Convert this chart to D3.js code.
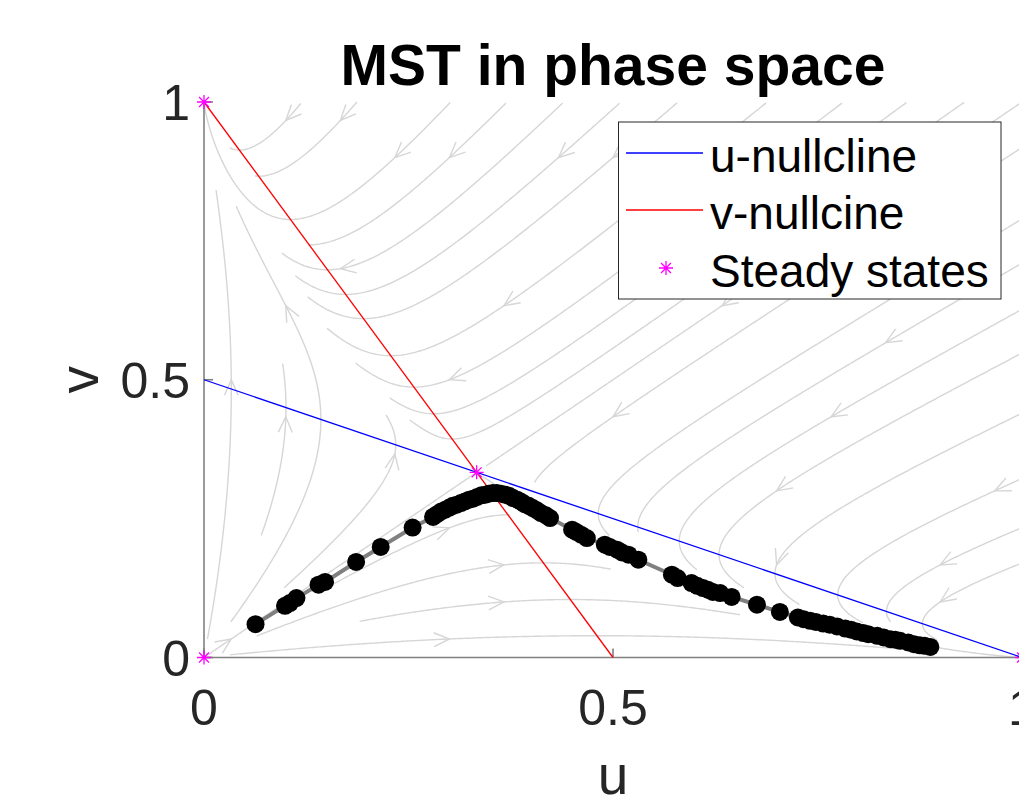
<!DOCTYPE html>
<html>
<head>
<meta charset="utf-8">
<script src="https://cdn.jsdelivr.net/npm/d3@7"></script>
<style>
  body { margin: 0; background: #fff; }
  text { font-family: "Liberation Sans", Arial, sans-serif; }
</style>
</head>
<body>
<div id="chart"></div>
<script>
// MST nodes in phase space, in path order
var mstU = [0.063, 0.099, 0.105, 0.113, 0.140, 0.148, 0.186, 0.216, 0.255, 0.280,
            0.285, 0.290, 0.295, 0.300, 0.304, 0.309, 0.314, 0.319, 0.324, 0.329,
            0.334, 0.339, 0.344, 0.348, 0.353, 0.358, 0.363, 0.368, 0.373, 0.378,
            0.383, 0.388, 0.392, 0.397, 0.402, 0.407, 0.412, 0.418, 0.423, 0.450,
            0.455, 0.461, 0.468, 0.490, 0.496, 0.505, 0.511, 0.519, 0.531, 0.572,
            0.579, 0.596, 0.603, 0.610, 0.616, 0.622, 0.631, 0.645, 0.676, 0.704,
            0.726, 0.733, 0.741, 0.748, 0.757, 0.765, 0.774, 0.784, 0.791, 0.798,
            0.806, 0.812, 0.823, 0.831, 0.839, 0.845, 0.851, 0.861, 0.868, 0.875,
            0.881, 0.888];
var mstV = [0.060, 0.093, 0.098, 0.107, 0.131, 0.136, 0.172, 0.199, 0.234, 0.253,
            0.258, 0.263, 0.266, 0.270, 0.273, 0.275, 0.278, 0.281, 0.284, 0.286,
            0.289, 0.292, 0.293, 0.295, 0.296, 0.296, 0.295, 0.293, 0.291, 0.287,
            0.284, 0.280, 0.276, 0.273, 0.269, 0.265, 0.260, 0.256, 0.251, 0.230,
            0.226, 0.221, 0.215, 0.203, 0.199, 0.194, 0.189, 0.185, 0.176, 0.149,
            0.143, 0.134, 0.129, 0.125, 0.122, 0.118, 0.116, 0.109, 0.095, 0.082,
            0.072, 0.069, 0.066, 0.064, 0.061, 0.059, 0.056, 0.052, 0.050, 0.047,
            0.044, 0.042, 0.039, 0.036, 0.033, 0.032, 0.030, 0.027, 0.024, 0.022,
            0.021, 0.019];

var steadyU = [0, 0, 1, 1 / 3];
var steadyV = [0, 1, 0, 1 / 3];
var uNullU = [0, 1], uNullV = [0.5, 0];
var vNullU = [0, 0.5], vNullV = [1, 0];
var xTicks = [0, 0.5, 1];
var yTicks = [0, 0.5, 1];
var legendLabels = ["u-nullcline", "v-nullcine", "Steady states"];

// competition model  u' = u(c0 + c1 u + c2 v),  v' = v(c0 + c1 u + c2 v)
var coefU = [1, -1, -2];
var coefV = [1, -2, -1];

var W = 1019, H = 798;
var svg = d3.select("#chart").append("svg")
    .attr("width", W).attr("height", H);

var x = d3.scaleLinear().domain([0, 1]).range([204, 1022]);
var y = d3.scaleLinear().domain([0, 1]).range([657.5, 102]);

// ---------- stream slice (evenly spaced streamlines) ----------
function field(u, v) {
    return [u * (coefU[0] + coefU[1] * u + coefU[2] * v),
            v * (coefV[0] + coefV[1] * u + coefV[2] * v)];
}
function dir(u, v, s) {
    var f = field(u, v);
    var m = Math.hypot(f[0], f[1]);
    if (m < 1e-7) return null;
    return [s * f[0] / m, s * f[1] / m];
}
var nStart = 15, nEnd = 32;
var startGrid = new Uint8Array(nStart * nStart);
var endGrid = new Int32Array(nEnd * nEnd).fill(-1);
function sc(u, v) {
    var i = Math.min(nStart - 1, Math.floor(u * nStart)), j = Math.min(nStart - 1, Math.floor(v * nStart));
    return j * nStart + i;
}
function ec(u, v) {
    var i = Math.min(nEnd - 1, Math.floor(u * nEnd)), j = Math.min(nEnd - 1, Math.floor(v * nEnd));
    return j * nEnd + i;
}
function trace(u0, v0, s, id) {
    var pts = [[u0, v0]], u = u0, v = v0, h = 0.003;
    var cell = ec(u, v);
    for (var k = 0; k < 4000; k++) {
        var d1 = dir(u, v, s); if (!d1) break;
        var d2 = dir(u + 0.5 * h * d1[0], v + 0.5 * h * d1[1], s); if (!d2) break;
        var un = u + h * d2[0], vn = v + h * d2[1];
        if (un < 0 || un > 1 || vn < 0 || vn > 1) break;
        var c = ec(un, vn);
        if (c !== cell) {
            if (endGrid[c] !== -1) break;
            endGrid[c] = id; cell = c;
        }
        startGrid[sc(un, vn)] = 1;
        u = un; v = vn;
        pts.push([u, v]);
    }
    return pts;
}

var streams = [], arrows = [];
var nCells = nStart * nStart;
for (var k = 0; k < nCells; k++) {
    var idx = (k * 97) % nCells;
    if (startGrid[idx]) continue;
    var u0 = ((idx % nStart) + 0.5) / nStart, v0 = (Math.floor(idx / nStart) + 0.5) / nStart;
    if (endGrid[ec(u0, v0)] !== -1) { startGrid[idx] = 1; continue; }
    var id = streams.length;
    startGrid[idx] = 1;
    endGrid[ec(u0, v0)] = id;
    var fw = trace(u0, v0, 1, id);
    var bw = trace(u0, v0, -1, id);
    var line = bw.reverse().concat(fw.slice(1));
    if (line.length < 3) continue;
    streams.push(line);
    var d = dir(u0, v0, 1);
    if (d) arrows.push({ u: u0, v: v0, dx: d[0], dy: d[1] });
}

var lineGen = d3.line().x(function (p) { return x(p[0]); }).y(function (p) { return y(p[1]); });

svg.append("g").selectAll("path.stream")
    .data(streams).enter().append("path")
    .attr("d", lineGen)
    .attr("fill", "none")
    .attr("stroke", "#d6d6d6")
    .attr("stroke-width", 1.4);

svg.append("g").selectAll("path.arrow")
    .data(arrows).enter().append("path")
    .attr("d", function (a) {
        var px = x(a.u), py = y(a.v);
        var ddx = a.dx * 818, ddy = -a.dy * 555.5, m = Math.hypot(ddx, ddy);
        ddx /= m; ddy /= m;
        var L = 17, ang = 0.42;
        var bx = -ddx, by = -ddy;
        var c = Math.cos(ang), s = Math.sin(ang);
        var a1x = px + L * (bx * c - by * s), a1y = py + L * (bx * s + by * c);
        var a2x = px + L * (bx * c + by * s), a2y = py + L * (-bx * s + by * c);
        return "M" + a1x + "," + a1y + "L" + px + "," + py + "L" + a2x + "," + a2y;
    })
    .attr("fill", "none")
    .attr("stroke", "#d6d6d6")
    .attr("stroke-width", 1.4);

// ---------- axes ----------
var axisColor = "#808080";
svg.append("line").attr("x1", x(0)).attr("x2", x(1)).attr("y1", y(0)).attr("y2", y(0))
    .attr("stroke", axisColor).attr("stroke-width", 1.6);
svg.append("line").attr("x1", x(0)).attr("x2", x(0)).attr("y1", y(0)).attr("y2", y(1))
    .attr("stroke", axisColor).attr("stroke-width", 1.6);
svg.append("g").selectAll("line").data(xTicks).enter().append("line")
    .attr("x1", function (d) { return x(d); }).attr("x2", function (d) { return x(d); })
    .attr("y1", y(0)).attr("y2", y(0) - 9)
    .attr("stroke", axisColor).attr("stroke-width", 1.6);
svg.append("g").selectAll("line").data(yTicks).enter().append("line")
    .attr("y1", function (d) { return y(d); }).attr("y2", function (d) { return y(d); })
    .attr("x1", x(0)).attr("x2", x(0) + 9)
    .attr("stroke", axisColor).attr("stroke-width", 1.6);

var fmt = d3.format("~g");
svg.append("g").selectAll("text").data(xTicks).enter().append("text")
    .attr("x", function (d) { return x(d); }).attr("y", 725)
    .attr("text-anchor", "middle").attr("font-size", 50).attr("fill", "#262626")
    .text(fmt);
svg.append("g").selectAll("text").data(yTicks).enter().append("text")
    .attr("x", 190).attr("y", function (d) { return y(d) + 18; })
    .attr("text-anchor", "end").attr("font-size", 50).attr("fill", "#262626")
    .text(fmt);

svg.append("text").attr("x", x(0.5)).attr("y", 794)
    .attr("text-anchor", "middle").attr("font-size", 55).attr("fill", "#262626").text("u");
svg.append("text").attr("transform", "translate(98," + y(0.5) + ") rotate(-90)")
    .attr("text-anchor", "middle").attr("font-size", 55).attr("fill", "#262626").text("v");

svg.append("text").attr("x", x(0.5)).attr("y", 85)
    .attr("text-anchor", "middle").attr("font-size", 57).attr("font-weight", "bold")
    .attr("fill", "#000").text("MST in phase space");

// ---------- nullclines ----------
svg.append("path").datum(d3.zip(uNullU, uNullV)).attr("d", lineGen)
    .attr("stroke", "#0000ff").attr("stroke-width", 1.3).attr("fill", "none");
svg.append("path").datum(d3.zip(vNullU, vNullV)).attr("d", lineGen)
    .attr("stroke", "#ff0000").attr("stroke-width", 1.3).attr("fill", "none");

// ---------- MST ----------
var mst = d3.zip(mstU, mstV);
svg.append("path").datum(mst).attr("d", lineGen)
    .attr("stroke", "#808080").attr("stroke-width", 4).attr("fill", "none");
svg.append("g").selectAll("circle").data(mst).enter().append("circle")
    .attr("cx", function (p) { return x(p[0]); })
    .attr("cy", function (p) { return y(p[1]); })
    .attr("r", 9).attr("fill", "#000");

// ---------- steady states ----------
function star(px, py, r) {
    var s = r * Math.SQRT1_2;
    return "M" + (px - r) + "," + py + "H" + (px + r) +
        "M" + px + "," + (py - r) + "V" + (py + r) +
        "M" + (px - s) + "," + (py - s) + "L" + (px + s) + "," + (py + s) +
        "M" + (px - s) + "," + (py + s) + "L" + (px + s) + "," + (py - s);
}
svg.append("g").selectAll("path").data(d3.zip(steadyU, steadyV)).enter().append("path")
    .attr("d", function (p) { return star(x(p[0]), y(p[1]), 7); })
    .attr("stroke", "#ff00ff").attr("stroke-width", 1.3).attr("fill", "none");

// ---------- legend ----------
var lg = svg.append("g");
lg.append("rect").attr("x", 618.5).attr("y", 122).attr("width", 382.5).attr("height", 177)
    .attr("fill", "#fff").attr("stroke", "#262626").attr("stroke-width", 1);
var rowY = [153, 210, 268];
var legendColors = ["#0000ff", "#ff0000"];
lg.selectAll("line.sw").data(legendColors).enter().append("line")
    .attr("x1", 626).attr("x2", 703)
    .attr("y1", function (d, i) { return rowY[i]; }).attr("y2", function (d, i) { return rowY[i]; })
    .attr("stroke", function (d) { return d; }).attr("stroke-width", 1.3);
lg.append("path").attr("d", star(666, rowY[2], 7))
    .attr("stroke", "#ff00ff").attr("stroke-width", 1.3).attr("fill", "none");
lg.selectAll("text").data(legendLabels).enter().append("text")
    .attr("x", 710).attr("y", function (d, i) { return rowY[i] + 19; })
    .attr("font-size", 46).attr("fill", "#000")
    .text(function (d) { return d; });
</script>
</body>
</html>
